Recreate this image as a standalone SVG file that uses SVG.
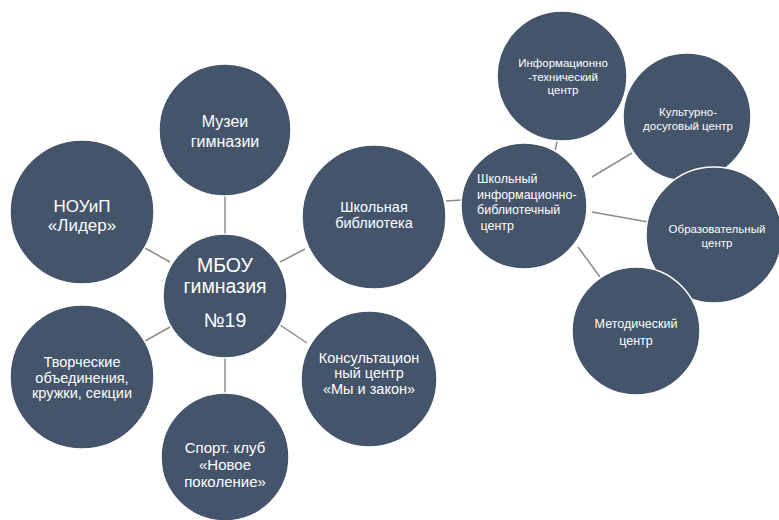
<svg xmlns="http://www.w3.org/2000/svg" width="779" height="520" viewBox="0 0 779 520">
<style>
.n{fill:#44546A;stroke:#ffffff;stroke-width:1.5}
.t{fill:#ffffff;font-family:"Liberation Sans",Arial,sans-serif;text-anchor:middle}
.tl{fill:#ffffff;font-family:"Liberation Sans",Arial,sans-serif;text-anchor:start}
.c line{stroke:#8c8c8c;stroke-width:1.5}
</style>
<rect width="779" height="520" fill="#ffffff"/>
<g class="c" id="connectors">
<line x1="225" y1="195" x2="225" y2="236"/>
<line x1="145" y1="248" x2="170" y2="262"/>
<line x1="305" y1="249" x2="280" y2="262"/>
<line x1="145" y1="341" x2="170" y2="327"/>
<line x1="307" y1="343" x2="280" y2="325"/>
<line x1="225" y1="357" x2="225" y2="394"/>
<line x1="446" y1="201" x2="462" y2="200"/>
<line x1="557" y1="141" x2="555" y2="152"/>
<line x1="632" y1="153" x2="592" y2="177"/>
<line x1="592" y1="212" x2="648" y2="222"/>
<line x1="578" y1="247" x2="600" y2="277"/>
</g>
<g id="muzei"><circle class="n" cx="225" cy="130" r="66"/>
<text class="t" font-size="16"><tspan x="225" y="127">Музеи</tspan><tspan x="225" y="147">гимназии</tspan></text></g>
<g id="nouip"><circle class="n" cx="82" cy="212" r="72"/>
<text class="t" font-size="17"><tspan x="82" y="212">НОУиП</tspan><tspan x="82" y="231">«Лидер»</tspan></text></g>
<g id="biblioteka"><circle class="n" cx="374" cy="217" r="72"/>
<text class="t" font-size="14.5"><tspan x="374" y="212">Школьная</tspan><tspan x="374" y="228">библиотека</tspan></text></g>
<g id="mbou"><circle class="n" cx="225" cy="296" r="62"/>
<text class="t" font-size="19.5"><tspan x="225" y="272">МБОУ</tspan><tspan x="225" y="293">гимназия</tspan><tspan x="225" y="327">№19</tspan></text></g>
<g id="tvorch"><circle class="n" cx="82" cy="377" r="72"/>
<text class="t" font-size="14.5"><tspan x="82" y="367">Творческие</tspan><tspan x="82" y="383">объединения,</tspan><tspan x="82" y="398">кружки, секции</tspan></text></g>
<g id="konsult"><circle class="n" cx="369" cy="379" r="68"/>
<text class="t" font-size="14.5"><tspan x="369" y="363">Консультацион</tspan><tspan x="369" y="378">ный центр</tspan><tspan x="369" y="394">«Мы и закон»</tspan></text></g>
<g id="sport"><circle class="n" cx="225" cy="457" r="64"/>
<text class="t" font-size="15"><tspan x="225" y="453">Спорт. клуб</tspan><tspan x="225" y="470">«Новое</tspan><tspan x="225" y="487">поколение»</tspan></text></g>
<g id="shibc"><circle class="n" cx="524" cy="206" r="63"/>
<text class="tl" font-size="12.5"><tspan x="477" y="183">Школьный</tspan><tspan x="477" y="199">информационно-</tspan><tspan x="477" y="214">библиотечный</tspan><tspan x="477" y="230"> центр</tspan></text></g>
<g id="itc"><circle class="n" cx="562" cy="76" r="65"/>
<text class="t" font-size="11.5"><tspan x="563" y="67">Информационно</tspan><tspan x="563" y="81">-технический</tspan><tspan x="563" y="94">центр</tspan></text></g>
<g id="kdc"><circle class="n" cx="687" cy="117" r="64"/>
<text class="t" font-size="11.5"><tspan x="688" y="116">Культурно-</tspan><tspan x="688" y="130">досуговый центр</tspan></text></g>
<g id="oc"><circle class="n" cx="714" cy="235" r="68"/>
<text class="t" font-size="11.5"><tspan x="717" y="233">Образовательный</tspan><tspan x="717" y="247">центр</tspan></text></g>
<g id="mc"><circle class="n" cx="636" cy="331" r="64"/>
<text class="t" font-size="12.5"><tspan x="636" y="328">Методический</tspan><tspan x="636" y="345">центр</tspan></text></g>
</svg>
